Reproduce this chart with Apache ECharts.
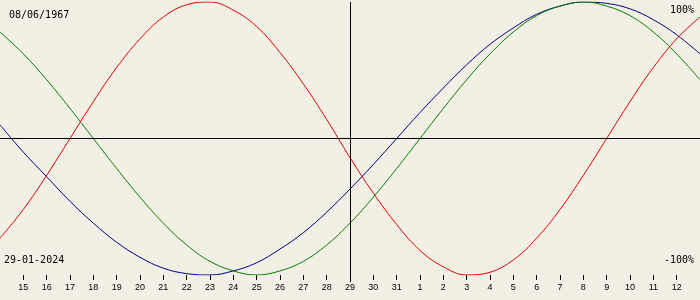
<!DOCTYPE html>
<html>
<head>
<meta charset="utf-8">
<script src="https://cdn.jsdelivr.net/npm/echarts@6/dist/echarts.min.js"></script>
<style>
html,body{margin:0;padding:0;background:#f2efe4;}
#chart{width:700px;height:300px;}
</style>
</head>
<body>
<div id="chart"></div>
<script>
// Day-of-month labels, 14 Jan 2024 .. 13 Feb 2024 (centre = 29 Jan)
var days = ['14','15','16','17','18','19','20','21','22','23','24','25','26','27','28','29','30','31',
            '1','2','3','4','5','6','7','8','9','10','11','12','13'];
// Values in percent, one per day
var physical = [-73,-52,-27,0,27,52,73,89,98,100,94,82,63,40,14,-14,-40,-63,-82,-94,-100,-98,-89,-73,-52,-27,0,27,52,73,89];
var emotional = [78,62,43,22,0,-22,-43,-62,-78,-90,-97,-100,-97,-90,-78,-62,-43,-22,0,22,43,62,78,90,97,100,97,90,78,62,43];
var intellectual = [10,-10,-28,-46,-62,-76,-87,-95,-99,-100,-97,-91,-81,-69,-54,-37,-19,0,19,37,54,69,81,91,97,100,99,95,87,76,62];
var birthText = '08/06/1967';
var dateText = '29-01-2024';
var topText = '100%';
var bottomText = '-100%';
var centreDay = '29';

var chart = echarts.init(document.getElementById('chart'), null, {renderer: 'canvas'});
var mono = 'DejaVu Sans Mono';
var lineStyle = function (c) { return {color: c, width: 1}; };
var centreIndex = days.indexOf(centreDay);
chart.setOption({
  backgroundColor: '#f2efe4',
  animation: false,
  grid: {left: 0, right: 0, top: 2, bottom: 25},
  xAxis: [{
    type: 'category', data: days, boundaryGap: false, position: 'bottom',
    axisLine: {show: false, onZero: false},
    axisTick: {show: true, length: 5, lineStyle: {color: '#000'},
      interval: function (i) { return i > 0 && i < days.length - 1; }},
    axisLabel: {show: true, margin: 8, color: '#000', fontSize: 9, fontFamily: 'Liberation Sans',
      interval: function (i) { return i > 0 && i < days.length - 1; }},
    splitLine: {show: false}
  }, {
    type: 'category', data: days, boundaryGap: false, position: 'bottom',
    axisLine: {show: false, onZero: false},
    axisTick: {show: true, length: 7, lineStyle: {color: '#000'},
      interval: function (i) { return i === centreIndex; }},
    axisLabel: {show: false},
    splitLine: {show: false}
  }],
  yAxis: {
    type: 'value', min: -100, max: 100,
    show: false, splitLine: {show: false}
  },
  series: [{
    type: 'line', data: intellectual, symbol: 'none', smooth: 0.4, lineStyle: lineStyle('#000088'),
    markLine: {
      silent: true, symbol: 'none', label: {show: false},
      lineStyle: {color: '#000', width: 1, type: 'solid'},
      data: [{yAxis: 0}, {xAxis: centreDay}]
    }
  }, {
    type: 'line', data: emotional, symbol: 'none', smooth: 0.4, lineStyle: lineStyle('#008000')
  }, {
    type: 'line', data: physical, symbol: 'none', smooth: 0.4, lineStyle: lineStyle('#e00000')
  }],
  graphic: [
    {type: 'text', left: 9, top: 10, style: {text: birthText, font: '10px "' + mono + '"', fill: '#000'}},
    {type: 'text', left: 4, top: 255, style: {text: dateText, font: '10px "' + mono + '"', fill: '#000'}},
    {type: 'text', right: 6, top: 5, style: {text: topText, font: '10px "' + mono + '"', fill: '#000'}},
    {type: 'text', right: 6, top: 255, style: {text: bottomText, font: '10px "' + mono + '"', fill: '#000'}}
  ]
});
</script>
</body>
</html>
